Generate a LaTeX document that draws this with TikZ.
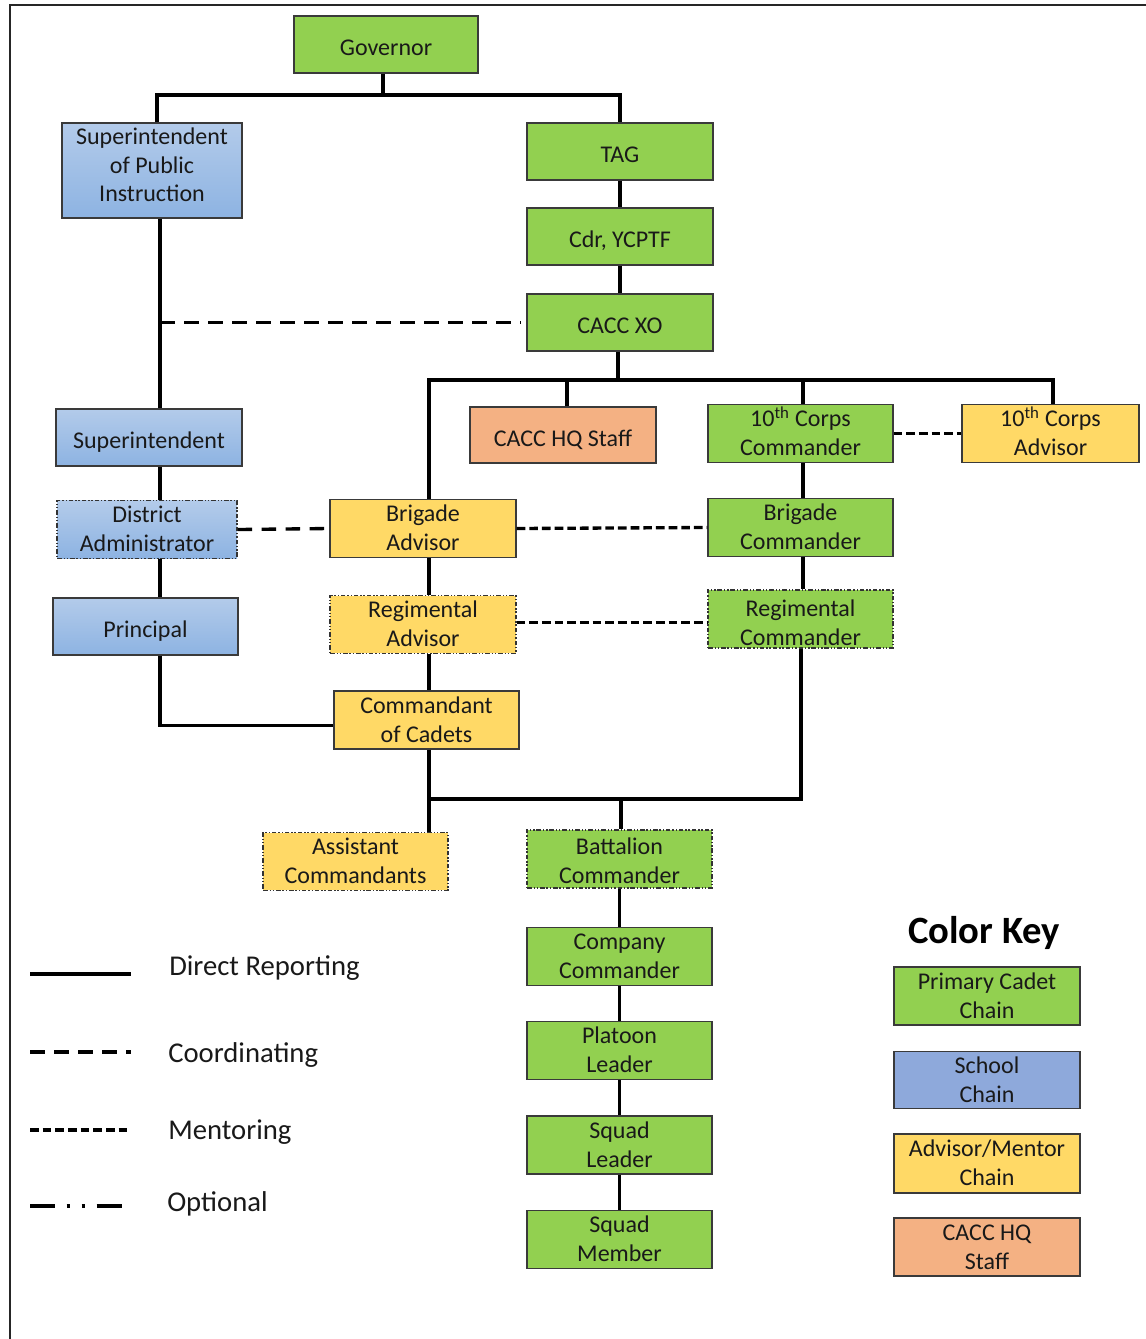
\documentclass[tikz,border=0pt]{standalone}
\usepackage{fontspec}
\setmainfont{Carlito}
\definecolor{cgreen}{HTML}{92D050}
\definecolor{cyellow}{HTML}{FFD966}
\definecolor{corange}{HTML}{F4B183}
\definecolor{cblue}{HTML}{8EA9DB}
\definecolor{cblueT}{HTML}{B3CBEA}
\definecolor{cblueB}{HTML}{8DB3E2}
\definecolor{cborder}{HTML}{3A3A3A}
\newcommand{\bt}[2][-1.5pt]{\raisebox{#1}[\height][\depth]{\begin{tabular}{@{}c@{}}#2\end{tabular}}}
\begin{document}
\begin{tikzpicture}[x=0.75pt,y=-0.75pt,
  box/.style={draw=cborder, line width=0.9pt, inner sep=0pt, align=center,
    text=black!90, font=\fontsize{18}{21.5}\selectfont,
    minimum width=185*0.75pt, minimum height=57*0.75pt},
  wd/.style={minimum width=#1*0.75pt},
  ht/.style={minimum height=#1*0.75pt},
  gbox/.style={box, fill=cgreen},
  ybox/.style={box, fill=cyellow},
  obox/.style={box, fill=corange},
  bbox/.style={box, top color=cblueT, bottom color=cblueB},
  kbbox/.style={box, fill=cblue},
  optb/.style={dash pattern=on 3.5pt off 1.4pt on 1pt off 1.4pt on 1pt off 1.4pt, line width=0.8pt, draw=black!80},
  conn/.style={line width=2.5pt, black},
  coordl/.style={conn, dash pattern=on 11pt off 7pt},
  ment/.style={conn, dash pattern=on 6.5pt off 3pt},
  optl/.style={conn, dash pattern=on 19pt off 8.5pt on 2.2pt off 9pt on 2.2pt off 9pt},
  legtxt/.style={anchor=west, inner sep=0pt, text=black!90, font=\fontsize{21.5}{26}\selectfont}
]
\useasboundingbox (0,0) rectangle (1146,1339);
\fill[white] (0,0) rectangle (1146,1339);
\draw[line width=1.7pt, black!85] (10,1339) -- (10,5) -- (1150,5);

% nodes
\node[gbox, wd=184] (gov) at (386,44.5) {\bt[-4.1pt]{Governor}};
\node[bbox, wd=180, ht=95] (spi) at (152,170.5) {\bt[2.2pt]{Superintendent\\of Public\\Instruction}};
\node[gbox, wd=186] (tag) at (620,151.5) {\bt[-4.1pt]{TAG}};
\node[gbox, wd=186] (cdr) at (620,236.5) {\bt[-4.1pt]{Cdr, YCPTF}};
\node[gbox, wd=186] (xo) at (620,322.5) {\bt[-4.1pt]{CACC XO}};
\node[obox, wd=186, ht=56] (hq) at (563,435) {\bt[-4.1pt]{CACC HQ Staff}};
\node[gbox] (cc10) at (800.5,433.5) {\bt{10\textsuperscript{th} Corps\\Commander}};
\node[ybox, wd=177] (ca10) at (1050.5,433.5) {\bt{10\textsuperscript{th} Corps\\Advisor}};
\node[bbox, wd=186] (sup) at (149,437.5) {\bt[-4.1pt]{Superintendent}};
\node[bbox, wd=180, optb] (da) at (147,529.5) {\bt{District\\Administrator}};
\node[ybox, wd=186] (ba) at (423,528.5) {\bt{Brigade\\Advisor}};
\node[gbox] (bc) at (800.5,527.5) {\bt{Brigade\\Commander}};
\node[ybox, wd=186, optb] (ra) at (423,624.5) {\bt{Regimental\\Advisor}};
\node[gbox, ht=58, optb] (rc) at (800.5,619) {\bt[-4.5pt]{Regimental\\Commander}};
\node[bbox] (pr) at (145.5,626.5) {\bt[-4.1pt]{Principal}};
\node[ybox, ht=58] (coc) at (426.5,720) {\bt{Commandant\\of Cadets}};
\node[ybox, optb] (ac) at (355.5,861.5) {\bt{Assistant\\Commandants}};
\node[gbox, ht=58, optb] (bn) at (619.5,859) {\bt[-3pt]{Battalion\\Commander}};
\node[gbox] (co) at (619.5,956.5) {\bt{Company\\Commander}};
\node[gbox] (pl) at (619.5,1050.5) {\bt{Platoon\\Leader}};
\node[gbox, ht=58] (sl) at (619.5,1145) {\bt{Squad\\Leader}};
\node[gbox] (sm) at (619.5,1239.5) {\bt{Squad\\Member}};

% column / bus coordinates
\coordinate (xL) at (160,0);
\coordinate (xB) at (429,0);
\coordinate (xC) at (803,0);
\coordinate (xH) at (567,0);
\coordinate (xA) at (1053,0);
\coordinate (xS) at (157,0);
\coordinate (bus1) at (383,95);
\coordinate (bus2) at (618,380);
\coordinate (bus3) at (621,799);

% direct reporting
\draw[conn] (gov.south -| bus1) -- (bus1);
\draw[conn] (spi.north -| xS) |- (bus1) -| (tag.north);
\draw[conn] (tag) -- (cdr);
\draw[conn] (cdr) -- (xo);
\draw[conn] (xo.south -| bus2) -- (bus2);
\draw[conn] (ba.north -| xB) |- (bus2) -| (ca10.north -| xA);
\draw[conn] (hq.north -| xH) -- (bus2 -| xH);
\draw[conn] (cc10.north -| xC) -- (bus2 -| xC);
\draw[conn] (spi.south -| xL) -- (sup.north -| xL);
\draw[conn] (sup.south -| xL) -- (da.north -| xL);
\draw[conn] (da.south -| xL) -- (pr.north -| xL);
\draw[conn] (pr.south -| xL) |- ([yshift=-5.5*0.75pt]coc.west);
\draw[conn] (cc10.south -| xC) -- (bc.north -| xC);
\draw[conn] (bc.south -| xC) -- (rc.north -| xC);
\draw[conn] (ba.south -| xB) -- (ra.north -| xB);
\draw[conn] (ra.south -| xB) -- (coc.north -| xB);
\draw[conn] (coc.south -| xB) |- (bus3) -| ([xshift=-1.5]rc.south -| xC);
\draw[conn] (bus3 -| xB) -- (ac.north -| xB);
\draw[conn] (bus3) -- (bn.north -| bus3);
\draw[conn] (bn) -- (co);
\draw[conn] (co) -- (pl);
\draw[conn] (pl) -- (sl);
\draw[conn] (sl) -- (sm);

% coordinating / mentoring
\draw[coordl] (xL |- xo.west) -- ([xshift=-4]xo.west);
\draw[coordl] (da.east) -- (ba.west);
\draw[ment] (ba.east) -- (bc.west);
\draw[ment] (cc10.east) -- (ca10.west);
\draw[ment] ([yshift=1.5]ra.east) -- ([yshift=1.5]ra.east -| rc.west);

% legend
\coordinate (l1a) at (30,974); \coordinate (l1b) at (131,974);
\coordinate (l2a) at (30,1052); \coordinate (l2b) at (131,1052);
\coordinate (l3a) at (30,1130); \coordinate (l3b) at (131,1130);
\coordinate (l4a) at (30,1206); \coordinate (l4b) at (125,1206);
\draw[conn] (l1a) -- (l1b);
\draw[coordl] (l2a) -- (l2b);
\draw[ment] (l3a) -- (l3b);
\draw[optl] (l4a) -- (l4b);
\node[legtxt] (t1) at (169,968) {Direct Reporting};
\node[legtxt] (t2) at (168,1055) {Coordinating};
\node[legtxt] (t3) at (168,1132) {Mentoring};
\node[legtxt] (t4) at (167,1204) {Optional};

% color key
\node[inner sep=0pt, font=\fontsize{29}{34}\bfseries\selectfont, text=black] (ck) at (984,933) {Color Key};
\node[gbox, wd=186, ht=58] (k1) at (987,996) {\bt{Primary Cadet\\Chain}};
\node[kbbox, wd=186, ht=56] (k2) at (987,1080) {\bt{School\\Chain}};
\node[ybox, wd=186, ht=59] (k3) at (987,1163.5) {\bt{Advisor/Mentor\\Chain}};
\node[obox, wd=186, ht=58] (k4) at (987,1247) {\bt{CACC HQ\\Staff}};
\end{tikzpicture}
\end{document}
